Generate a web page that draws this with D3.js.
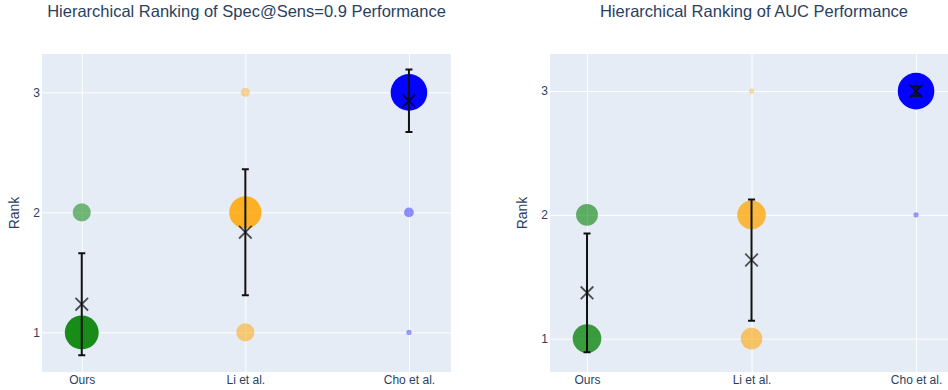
<!DOCTYPE html>
<html>
<head>
<meta charset="utf-8">
<script src="https://cdn.jsdelivr.net/npm/d3@7"></script>
<style>
  body { margin: 0; background: #fff; }
  text { font-family: "Liberation Sans", Arial, sans-serif; fill: #2a3f5f; }
</style>
</head>
<body>
<div id="chart"></div>
<script>
// categories and ranks
var methods = ["Ours", "Li et al.", "Cho et al."];
var ranks = [1, 2, 3];

// share (%) of runs in each rank, per method: [rank1, rank2, rank3]
var specShare = [[84, 24, 0], [24, 76, 6], [2, 7, 98]];
var aucShare = [[60, 35, 0], [34, 60, 2], [0, 2, 98]];

// mean rank and std per method
var specMean = [1.235, 1.835, 2.93];
var specStd = [0.425, 0.525, 0.26];
var aucMean = [1.37, 1.635, 3.0];
var aucStd = [0.48, 0.49, 0.04];

var colors = ["green", "orange", "blue"];

var svgWidth = 948;
var svgHeight = 390;

var svg = d3.select("#chart")
  .append("svg")
  .attr("width", svgWidth)
  .attr("height", svgHeight);

var clip = svg.append("defs");

var sizeScale = d3.scaleSqrt().domain([0, 100]).range([0, 18.5]);
var opacityScale = d3.scaleLinear().domain([0, 100]).range([0.37, 1]);

function drawPanel(id, opts) {
  var g = svg.append("g");
  var width = opts.right - opts.left;
  var height = opts.bottom - opts.top;

  var x = d3.scaleLinear().domain(opts.xDomain).range([opts.left, opts.right]);
  var y = d3.scaleLinear().domain(opts.yDomain).range([opts.bottom, opts.top]);

  clip.append("clipPath").attr("id", id)
    .append("rect")
    .attr("x", opts.left).attr("y", opts.top)
    .attr("width", width).attr("height", height);

  g.append("rect")
    .attr("x", opts.left).attr("y", opts.top)
    .attr("width", width).attr("height", height)
    .attr("fill", "#E5ECF6");

  // grid lines
  g.append("g")
    .attr("transform", `translate(0, ${opts.bottom})`)
    .call(d3.axisBottom(x).tickValues([0, 1, 2]).tickSize(-height).tickFormat((d, i) => methods[i]))
    .call(a => a.select(".domain").remove())
    .call(a => a.selectAll("line").attr("stroke", "#fff").attr("stroke-width", 1))
    .call(a => a.selectAll("text").attr("font-size", "12px").attr("fill", "#2a3f5f").attr("dy", "0.71em").attr("y", 3));

  g.append("g")
    .attr("transform", `translate(${opts.left}, 0)`)
    .call(d3.axisLeft(y).tickValues(ranks).tickSize(-width).tickFormat(d3.format("d")))
    .call(a => a.select(".domain").remove())
    .call(a => a.selectAll("line").attr("stroke", "#fff").attr("stroke-width", 1))
    .call(a => a.selectAll("text").attr("font-size", "12px").attr("fill", "#2a3f5f").attr("x", -2));

  var plot = g.append("g").attr("clip-path", `url(#${id})`);

  // frequency bubbles
  var pts = [];
  opts.share.forEach(function(row, m) {
    row.forEach(function(s, r) {
      if (s > 0) pts.push({m: m, rank: ranks[r], share: s});
    });
  });

  plot.selectAll("circle")
    .data(pts)
    .enter()
    .append("circle")
    .attr("cx", d => x(d.m))
    .attr("cy", d => y(d.rank))
    .attr("r", d => sizeScale(d.share))
    .attr("fill", d => colors[d.m])
    .attr("fill-opacity", d => opacityScale(d.share));

  // mean markers
  var k = 6.3;
  plot.append("g").selectAll("path")
    .data(opts.mean)
    .enter()
    .append("path")
    .attr("d", (d, i) => {
      var cx = x(i), cy = y(d);
      return `M${cx - k},${cy - k}L${cx + k},${cy + k}M${cx - k},${cy + k}L${cx + k},${cy - k}`;
    })
    .attr("stroke", "rgba(0,0,0,0.68)")
    .attr("stroke-width", 1.8)
    .attr("fill", "none");

  // std error bars
  var c = 3.5;
  plot.append("g").selectAll("path")
    .data(opts.mean)
    .enter()
    .append("path")
    .attr("d", (d, i) => {
      var cx = x(i), y0 = y(d - opts.std[i]), y1 = y(d + opts.std[i]);
      return `M${cx},${y0}L${cx},${y1}M${cx - c},${y0}L${cx + c},${y0}M${cx - c},${y1}L${cx + c},${y1}`;
    })
    .attr("stroke", "#111")
    .attr("stroke-width", 2)
    .attr("fill", "none");

  // titles
  g.append("text")
    .attr("x", (opts.left + opts.right) / 2)
    .attr("y", 17)
    .attr("text-anchor", "middle")
    .attr("font-size", "16.5px")
    .text(opts.title);

  g.append("text")
    .attr("transform", `translate(${opts.rankX}, ${(opts.top + opts.bottom) / 2}) rotate(-90)`)
    .attr("text-anchor", "middle")
    .attr("dy", "0.35em")
    .attr("font-size", "14px")
    .text("Rank");
}

drawPanel("clipA", {
  left: 42, right: 451, top: 54, bottom: 372,
  xDomain: [-0.243, 2.257], yDomain: [0.67, 3.32],
  share: specShare, mean: specMean, std: specStd,
  title: "Hierarchical Ranking of Spec@Sens=0.9 Performance",
  rankX: 14
});

drawPanel("clipB", {
  left: 550, right: 958, top: 54, bottom: 372,
  xDomain: [-0.225, 2.255], yDomain: [0.73, 3.30],
  share: aucShare, mean: aucMean, std: aucStd,
  title: "Hierarchical Ranking of AUC Performance",
  rankX: 522
});
</script>
</body>
</html>
